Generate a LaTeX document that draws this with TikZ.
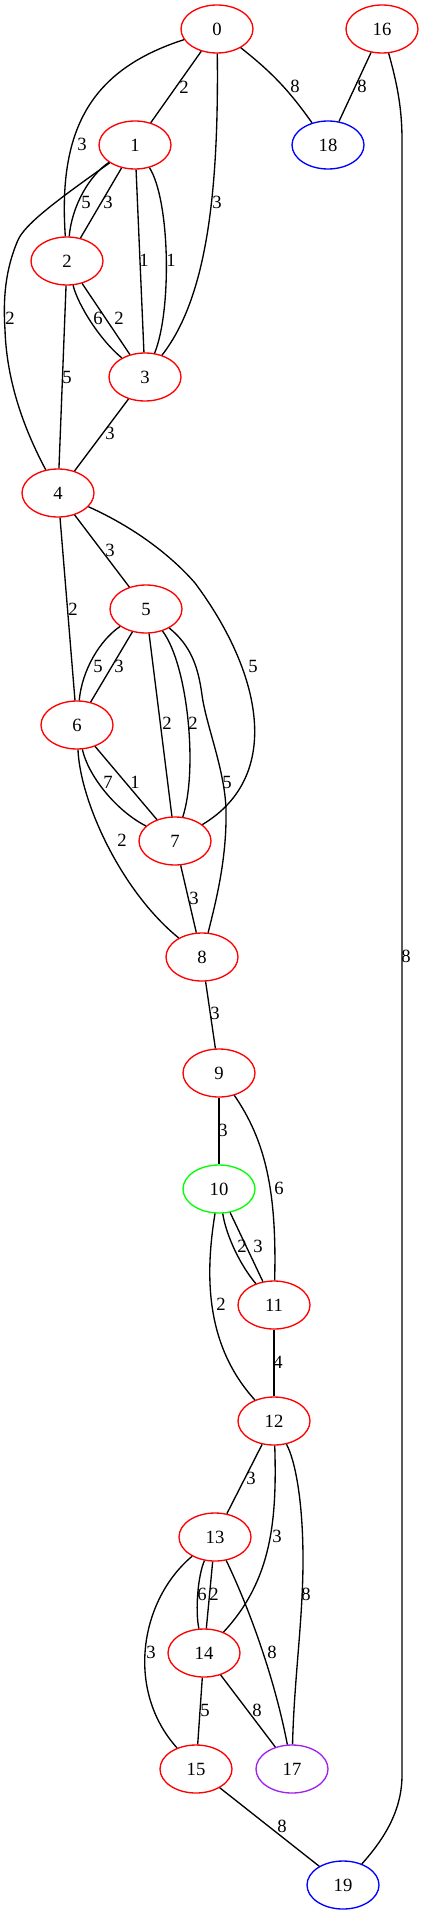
\documentclass[tikz,border=0pt]{standalone}
\usepackage{fontspec}
\setmainfont{Liberation Serif}
\usetikzlibrary{shapes.geometric}
\definecolor{gvred}{HTML}{FF0000}
\definecolor{gvblue}{HTML}{0000FF}
\definecolor{gvgreen}{HTML}{00FF00}
\definecolor{gvpurple}{HTML}{A020F0}
\begin{document}
\begin{tikzpicture}[x=0.75pt,y=-0.75pt,
  vert/.style={ellipse,draw=gvred,line width=1pt,minimum width=54pt,minimum height=36pt,inner sep=0pt,font=\fontsize{14}{16}\selectfont},
  bluev/.style={vert,draw=gvblue},
  greenv/.style={vert,draw=gvgreen},
  purplev/.style={vert,draw=gvpurple},
  lbl/.style={inner sep=0pt,font=\fontsize{14}{16}\selectfont},
  edge/.style={draw=black,line width=1pt}]
\useasboundingbox (0,0) rectangle (423,1915);
% nodes
\node[vert] (n0) at (217,29) {0};
\node[vert] (n16) at (382,29) {16};
\node[vert] (n1) at (135,145) {1};
\node[bluev] (n18) at (328,145) {18};
\node[vert] (n2) at (67,261) {2};
\node[vert] (n3) at (145,377) {3};
\node[vert] (n4) at (58,493) {4};
\node[vert] (n5) at (146,609) {5};
\node[vert] (n6) at (77,725) {6};
\node[vert] (n7) at (175,841) {7};
\node[vert] (n8) at (202,957) {8};
\node[vert] (n9) at (219,1073) {9};
\node[greenv] (n10) at (219,1189) {10};
\node[vert] (n11) at (274,1305) {11};
\node[vert] (n12) at (274,1421) {12};
\node[vert] (n13) at (215,1537) {13};
\node[vert] (n14) at (204,1653) {14};
\node[vert] (n15) at (196,1769) {15};
\node[purplev] (n17) at (292,1769) {17};
\node[bluev] (n19) at (343,1885) {19};
% edges
\path[edge] (n0) -- (n1) node[lbl] at (184,87) {2};
\path[edge] (n0) .. controls (90,70) and (58,130) .. (n2) node[lbl] at (82,144) {3};
\path[edge] (n0) .. controls (219,200) and (205,300) .. (n3) node[lbl] at (217,202) {3};
\path[edge] (n0) to[bend left=8] (n18) node[lbl] at (295,86) {8};
\path[edge] (n16) -- (n18) node[lbl] at (362,86) {8};
\path[edge] (n16) .. controls (396,80) and (402,105) .. (402,140) -- (402,1775) .. controls (402,1810) and (385,1838) .. (n19) node[lbl] at (406,956) {8};
\path[edge] (n1) .. controls (90,175) and (72,205) .. (n2) node[lbl] at (86,202) {5};
\path[edge] (n1) -- (n2) node[lbl] at (108,202) {3};
\path[edge] (n1) -- (n3) node[lbl] at (144,260) {1};
\path[edge] (n1) .. controls (170,200) and (172,310) .. (n3) node[lbl] at (171,260) {1};
\path[edge] (n1) .. controls (50,205) and (25,225) .. (18,240) .. controls (5,270) and (3,300) .. (5,330) .. controls (7,390) and (30,440) .. (n4) node[lbl] at (10,318) {2};
\path[edge] (n2) .. controls (78,305) and (100,340) .. (n3) node[lbl] at (98,318) {6};
\path[edge] (n2) -- (n3) node[lbl] at (119,318) {2};
\path[edge] (n2) -- (n4) node[lbl] at (67,377) {5};
\path[edge] (n3) -- (n4) node[lbl] at (110,433) {3};
\path[edge] (n4) -- (n5) node[lbl] at (110,550) {3};
\path[edge] (n4) -- (n6) node[lbl] at (73,609) {2};
\path[edge] (n4) .. controls (140,530) and (175,560) .. (195,583) .. controls (260,670) and (285,775) .. (n7) node[lbl] at (253,666) {5};
\path[edge] (n5) .. controls (100,640) and (82,670) .. (n6) node[lbl] at (98,666) {5};
\path[edge] (n5) -- (n6) node[lbl] at (119,666) {3};
\path[edge] (n5) -- (n7) node[lbl] at (167,723) {2};
\path[edge] (n5) .. controls (188,665) and (198,770) .. (n7) node[lbl] at (193,723) {2};
\path[edge] (n5) .. controls (190,645) and (198,665) .. (202,695) .. controls (206,725) and (225,770) .. (226,810) .. controls (227,860) and (215,905) .. (n8) node[lbl] at (227,782) {5};
\path[edge] (n6) .. controls (88,775) and (115,810) .. (n7) node[lbl] at (108,782) {7};
\path[edge] (n6) -- (n7) node[lbl] at (135,782) {1};
\path[edge] (n6) .. controls (80,800) and (120,890) .. (n8) node[lbl] at (122,840) {2};
\path[edge] (n7) -- (n8) node[lbl] at (194,898) {3};
\path[edge] (n8) -- (n9) node[lbl] at (215,1013) {3};
\path[edge] (n9) -- (n10) node[lbl] at (223,1130) {3};
\path[edge] (n9) .. controls (265,1140) and (277,1190) .. (n11) node[lbl] at (279,1188) {6};
\path[edge] (n10) .. controls (226,1235) and (240,1265) .. (n11) node[lbl] at (242,1246) {2};
\path[edge] (n10) -- (n11) node[lbl] at (258,1246) {3};
\path[edge] (n10) .. controls (205,1275) and (205,1345) .. (n12) node[lbl] at (221,1304) {2};
\path[edge] (n11) -- (n12) node[lbl] at (278,1362) {4};
\path[edge] (n12) -- (n13) node[lbl] at (251,1478) {3};
\path[edge] (n12) .. controls (277,1520) and (272,1580) .. (n14) node[lbl] at (277,1536) {3};
\path[edge] (n12) .. controls (295,1460) and (303,1500) .. (303,1560) .. controls (303,1620) and (294,1680) .. (n17) node[lbl] at (306,1594) {8};
\path[edge] (n13) .. controls (198,1575) and (195,1610) .. (n14) node[lbl] at (202,1594) {6};
\path[edge] (n13) -- (n14) node[lbl] at (214,1594) {2};
\path[edge] (n13) .. controls (140,1600) and (125,1690) .. (n15) node[lbl] at (151,1652) {3};
\path[edge] (n13) .. controls (250,1610) and (275,1680) .. (n17) node[lbl] at (272,1652) {8};
\path[edge] (n14) -- (n15) node[lbl] at (205,1710) {5};
\path[edge] (n14) -- (n17) node[lbl] at (257,1710) {8};
\path[edge] (n15) -- (n19) node[lbl] at (282,1826) {8};
\end{tikzpicture}
\end{document}
